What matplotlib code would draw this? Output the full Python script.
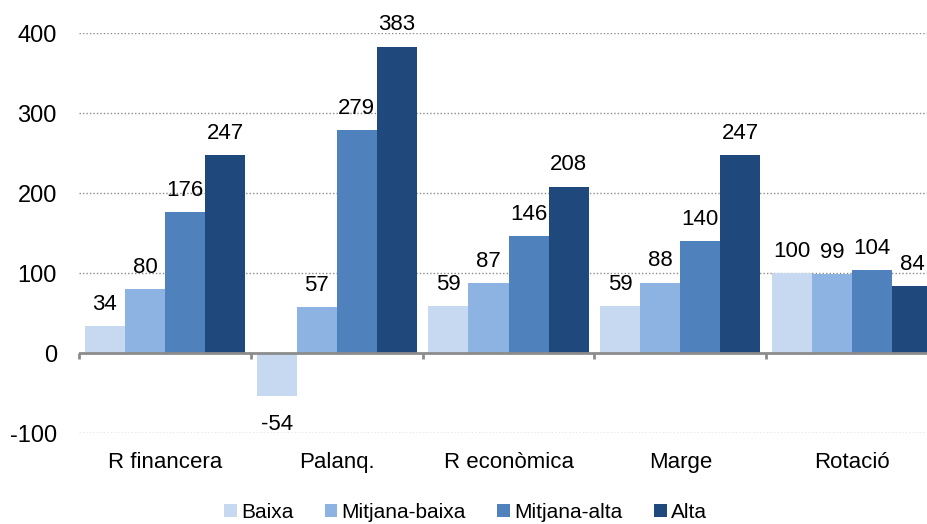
import numpy as np
import matplotlib.pyplot as plt

plt.rcParams['font.family'] = ['Liberation Sans', 'DejaVu Sans']
plt.rcParams['axes.unicode_minus'] = False

categories = ['R financera', 'Palanq.', 'R econòmica', 'Marge', 'Rotació']
series = ['Baixa', 'Mitjana-baixa', 'Mitjana-alta', 'Alta']
baixa = [34, -54, 59, 59, 100]
mitjana_baixa = [80, 57, 87, 88, 99]
mitjana_alta = [176, 279, 146, 140, 104]
alta = [247, 383, 208, 247, 84]
colors = ['#C6D9F1', '#8DB3E2', '#4F81BD', '#1F497D']

values = [baixa, mitjana_baixa, mitjana_alta, alta]

fig = plt.figure(figsize=(9.27, 5.24), dpi=100)
ax = fig.add_axes([79 / 927, 91 / 524, 859 / 927, 400 / 524])

x = np.arange(len(categories))
w = 0.233
for i, (name, vals, c) in enumerate(zip(series, values, colors)):
    pos = x + (i - 1.5) * w
    ax.bar(pos, vals, w, color=c, label=name, zorder=3, linewidth=0)
    for px, v in zip(pos, vals):
        if v >= 0:
            ax.annotate(str(v), (px, v), xytext=(0, 8), textcoords='offset points',
                        ha='center', va='bottom', fontsize=16, annotation_clip=False)
        else:
            ax.annotate(str(v), (px, v), xytext=(0, -13), textcoords='offset points',
                        ha='center', va='top', fontsize=16, annotation_clip=False)

ax.set_xlim(-0.5, len(categories) - 0.5)
ax.set_ylim(-100, 400)
ax.set_yticks([-100, 0, 100, 200, 300, 400])
ax.tick_params(axis='y', length=0, labelsize=17, pad=16)
ax.set_xticks(x)
ax.set_xticklabels(categories)
ax.tick_params(axis='x', length=0, labelsize=16, pad=14)

for s in ax.spines.values():
    s.set_visible(False)

for g in [-100, 100, 200, 300, 400]:
    ax.axhline(g, color='#8C8C8C', linestyle=(0, (1, 1.5)), linewidth=1, zorder=1)
ax.axhline(0, color='#8C8C8C', linewidth=2, zorder=4)
ax.vlines(np.arange(len(categories) + 1) - 0.5, -8, 0, color='#8C8C8C', linewidth=2, zorder=4,
          clip_on=False)

fig.legend(loc='center', bbox_to_anchor=(0.502, 0.022), ncol=4, frameon=False,
           fontsize=15, handlelength=0.62, handleheight=0.62, handletextpad=0.2,
           columnspacing=1.5, borderpad=0)

fig.savefig('out.png', dpi=100)
